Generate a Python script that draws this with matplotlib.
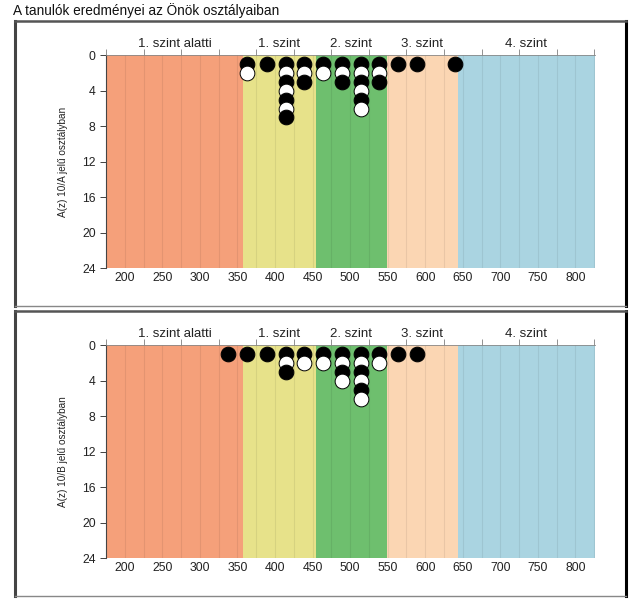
import matplotlib.pyplot as plt
import numpy as np
from matplotlib.lines import Line2D

plt.rcParams['font.family'] = ['Liberation Sans', 'DejaVu Sans']

# Szintek határai (pontszám)
szint_hatarok = [175, 358, 454, 549, 643, 826]
szint_nevek = ['1. szint alatti', '1. szint', '2. szint', '3. szint', '4. szint']
szint_szinek = ['#F5A07A', '#E7E28A', '#6EBF6E', '#FBD6B3', '#AAD4E1']

x_ticks = [200, 250, 300, 350, 400, 450, 500, 550, 600, 650, 700, 750, 800]
y_ticks = [0, 4, 8, 12, 16, 20, 24]

# 10/A osztály: oszlopok középpontja és a tanulók száma
a_x = [363, 389, 414, 439, 464, 489, 514, 539, 564, 589, 639]
a_db = [2, 1, 7, 3, 2, 3, 6, 3, 1, 1, 1]

# 10/B osztály
b_x = [338, 363, 389, 414, 439, 464, 489, 514, 539, 564, 589]
b_db = [1, 1, 1, 3, 2, 2, 4, 6, 2, 1, 1]

fig = plt.figure(figsize=(6.37, 6.10), dpi=100)

fig.text(13/637, 1 - 11/610, 'A tanulók eredményei az Önök osztályaiban',
         fontsize=9.8, ha='left', va='center', color='#111111')


def keret(top_px, bottom_px):
    # keret a panel köré (pixelben megadva)
    l, r = 15/637, 625.5/637
    t, b = 1 - top_px/610, 1 - bottom_px/610
    fig.add_artist(Line2D([l, l], [t, b], color='#444444', lw=2.2))
    fig.add_artist(Line2D([r, r], [t, b], color='black', lw=2.2))
    fig.add_artist(Line2D([l, r], [t, t], color='#555555', lw=1.8))
    fig.add_artist(Line2D([l, r], [b, b], color='#888888', lw=1.0))


def panel(bottom, xs, counts, ylabel):
    ax = fig.add_axes([106/637, bottom, 489/637, 213/610])
    for i in range(len(szint_nevek)):
        ax.axvspan(szint_hatarok[i], szint_hatarok[i + 1], color=szint_szinek[i], lw=0, zorder=0)
        ax.text((szint_hatarok[i] + szint_hatarok[i + 1]) / 2, -0.6, szint_nevek[i],
                ha='center', va='bottom', fontsize=9.5, color='#222222')
    for gx in np.arange(200, 826, 25):
        ax.axvline(gx, color='black', alpha=0.07, lw=0.8, zorder=1)

    z = 3
    for x, n in zip(xs, counts):
        for k in range(n):
            c = 'black' if k % 2 == 0 else 'white'
            ax.plot(x, k + 1, 'o', ms=10.6, mfc=c, mec='black', mew=0.7, zorder=z)
            z += 1

    ax.set_xlim(szint_hatarok[0], szint_hatarok[-1])
    ax.set_ylim(24, 0)
    ax.set_xticks(x_ticks)
    ax.set_xticks(np.arange(175, 826, 25), minor=True)
    ax.set_yticks(y_ticks)
    ax.tick_params(axis='both', labelsize=8.8, colors='#222222', length=4, width=0.6)
    ax.tick_params(axis='x', which='major', length=0, pad=3)
    ax.tick_params(axis='x', which='minor', top=True, bottom=False, length=4,
                   width=0.5, color='#666666')
    for s in ['right', 'bottom']:
        ax.spines[s].set_visible(False)
    ax.spines['left'].set_color('#444444')
    ax.spines['left'].set_linewidth(0.8)
    ax.spines['top'].set_color('#888888')
    ax.spines['top'].set_linewidth(0.6)
    ax.set_ylabel(ylabel, fontsize=7.2, labelpad=10, color='#222222')
    return ax


keret(21, 305.5)
keret(311, 596)
panel(1 - 268.3/610, a_x, a_db, 'A(z) 10/A jelű osztályban')
panel(1 - 558.3/610, b_x, b_db, 'A(z) 10/B jelű osztályban')

fig.savefig('out.png', dpi=100)
